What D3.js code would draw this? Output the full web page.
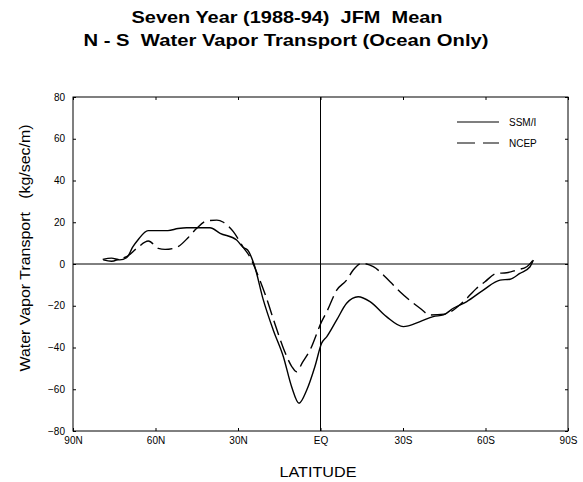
<!DOCTYPE html>
<html>
<head>
<meta charset="utf-8">
<script src="https://cdn.jsdelivr.net/npm/d3@7"></script>
<style>
  body { margin: 0; background: #fff; }
  text { font-family: "Liberation Sans", Arial, sans-serif; fill: #000; white-space: pre; }
</style>
</head>
<body>
<div id="chart"></div>
<script>
// latitude: positive = N, negative = S
var ssmiLat = [79.2, 76, 73, 70.5, 68.2, 66.4, 62.7, 59.6, 55.5, 51.8, 48.7, 40.2, 36.5, 30.5, 28.2, 26.5, 24.2, 20.8, 17.2, 13.5, 10.5, 7.8, 5, 2, -0.4, -2.3, -5.9, -9.5, -13.7, -18, -24, -30.1, -36.2, -41, -44.7, -48.3, -53.2, -59.2, -65.3, -68.9, -72.5, -76.2, -77.4];
var ssmiVal = [2.2, 2.8, 2.0, 3.0, 8.3, 11.5, 16, 16, 16, 17, 17.4, 17.4, 14.7, 11.5, 8, 6.7, 0, -17.2, -31.6, -44.4, -58.8, -66.7, -60.4, -49, -38, -34.8, -26.8, -18.8, -15.7, -18, -25.2, -30, -27.6, -25.2, -24.4, -21.2, -18, -12.5, -7.7, -7.3, -4.5, -1.3, 1.9];

var ncepLat = [79, 76, 73, 70.5, 66.8, 62.6, 59, 56.5, 52.3, 48, 45, 41.4, 37.7, 35.3, 31.7, 28.1, 25.5, 23.5, 20, 16.5, 13, 10.5, 8.7, 6.5, 3.8, -0.4, -2.3, -5.9, -9.5, -11.9, -15, -19.2, -25.3, -28.9, -36.2, -39.8, -45, -52, -56.8, -59.8, -64, -67.7, -71.3, -75, -77.6];
var ncepVal = [2.0, 1.3, 2.5, 3.5, 7.5, 11, 7.5, 7, 8, 12.8, 17.1, 20.6, 21, 20, 15.5, 8, 3, -3, -15, -29, -42, -49, -51.6, -47, -41.2, -27.6, -22.8, -12.5, -7.7, -2.9, 0.3, -1.3, -8.5, -13.3, -21.2, -24.4, -24, -18, -11.6, -8.5, -4.5, -4.2, -2.9, -1.3, 2.4];

var xTicks = [90, 60, 30, 0, -30, -60, -90];
var xTickLabels = ["90N", "60N", "30N", "EQ", "30S", "60S", "90S"];
var yTicks = [-80, -60, -40, -20, 0, 20, 40, 60, 80];
var seriesNames = ["SSM/I", "NCEP"];

var width = 583, height = 482;
var pLeft = 73, pRight = 568, pTop = 97, pBottom = 431;

var svg = d3.select("#chart").append("svg")
    .attr("width", width)
    .attr("height", height);

var x = d3.scaleLinear().domain([90, -90]).range([pLeft, pRight]);
var y = d3.scaleLinear().domain([-80, 80]).range([pBottom, pTop]);

// titles
svg.append("text").attr("x", 287).attr("y", 23).attr("text-anchor", "middle")
    .style("font-size", "17px").style("font-weight", "bold")
    .attr("textLength", 311).attr("lengthAdjust", "spacingAndGlyphs")
    .text("Seven Year (1988-94)  JFM  Mean");
svg.append("text").attr("x", 286).attr("y", 46).attr("text-anchor", "middle")
    .style("font-size", "17px").style("font-weight", "bold")
    .attr("textLength", 405).attr("lengthAdjust", "spacingAndGlyphs")
    .text("N - S  Water Vapor Transport (Ocean Only)");

// frame
svg.append("rect").attr("x", pLeft).attr("y", pTop)
    .attr("width", pRight - pLeft).attr("height", pBottom - pTop)
    .attr("fill", "none").attr("stroke", "#000").attr("stroke-width", 1);

// inward ticks on all four sides
var tl = 3;
svg.append("g").attr("transform", `translate(0,${pBottom})`)
    .call(d3.axisTop(x).tickValues(xTicks).tickSize(tl).tickFormat(""))
    .call(g => g.select(".domain").remove());
svg.append("g").attr("transform", `translate(0,${pTop})`)
    .call(d3.axisBottom(x).tickValues(xTicks).tickSize(tl).tickFormat(""))
    .call(g => g.select(".domain").remove());
svg.append("g").attr("transform", `translate(${pLeft},0)`)
    .call(d3.axisRight(y).tickValues(yTicks).tickSize(tl).tickFormat(""))
    .call(g => g.select(".domain").remove());
svg.append("g").attr("transform", `translate(${pRight},0)`)
    .call(d3.axisLeft(y).tickValues(yTicks).tickSize(tl).tickFormat(""))
    .call(g => g.select(".domain").remove());

// tick labels
svg.append("g").attr("transform", `translate(0,${pBottom})`)
    .call(d3.axisBottom(x).tickValues(xTicks).tickSize(0).tickPadding(6)
        .tickFormat((d, i) => xTickLabels[i]))
    .call(g => g.select(".domain").remove())
    .selectAll("text").style("font-size", "10px").style("font-family", "Liberation Sans, Arial, sans-serif");
svg.append("g").attr("transform", `translate(${pLeft},0)`)
    .call(d3.axisLeft(y).tickValues(yTicks).tickSize(0).tickPadding(8))
    .call(g => g.select(".domain").remove())
    .selectAll("text").style("font-size", "10px").style("font-family", "Liberation Sans, Arial, sans-serif");

// zero and equator lines
svg.append("line").attr("x1", pLeft).attr("x2", pRight)
    .attr("y1", y(0)).attr("y2", y(0)).attr("stroke", "#000");
svg.append("line").attr("x1", x(0)).attr("x2", x(0))
    .attr("y1", pTop).attr("y2", pBottom).attr("stroke", "#000");

// axis titles
svg.append("text").attr("x", 318).attr("y", 477).attr("text-anchor", "middle")
    .style("font-size", "15px").attr("textLength", 77).attr("lengthAdjust", "spacingAndGlyphs")
    .text("LATITUDE");
svg.append("text").attr("transform", "translate(30,248) rotate(-90)")
    .attr("text-anchor", "middle").style("font-size", "15px")
    .attr("textLength", 247).attr("lengthAdjust", "spacingAndGlyphs")
    .text("Water Vapor Transport   (kg/sec/m)");

// data lines
var line = d3.line().curve(d3.curveMonotoneX);
var ssmiPts = ssmiLat.map((d, i) => [x(d), y(ssmiVal[i])]);
var ncepPts = ncepLat.map((d, i) => [x(d), y(ncepVal[i])]);

svg.append("path").attr("d", line(ssmiPts))
    .attr("fill", "none").attr("stroke", "#000").attr("stroke-width", 1.4);
svg.append("path").attr("d", line(ncepPts))
    .attr("fill", "none").attr("stroke", "#000").attr("stroke-width", 1.4)
    .attr("stroke-dasharray", "15,6");

// legend
var legend = svg.append("g");
seriesNames.forEach(function(name, i) {
    var ly = 122 + i * 21;
    legend.append("line").attr("x1", 457).attr("x2", 499)
        .attr("y1", ly).attr("y2", ly).attr("stroke", "#000").attr("stroke-width", 1.2)
        .attr("stroke-dasharray", i === 1 ? "18,8" : null);
    legend.append("text").attr("x", 509).attr("y", ly + 4)
        .style("font-size", "10px").text(name);
});
</script>
</body>
</html>
